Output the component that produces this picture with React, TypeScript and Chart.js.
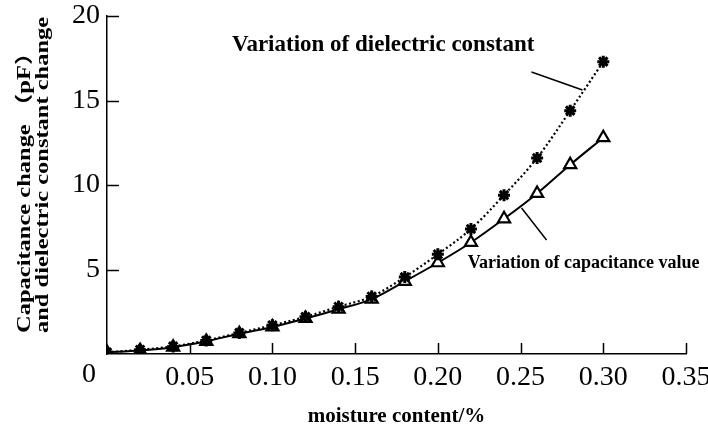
import React, { useEffect, useRef } from "react";
import { Chart, registerables } from "chart.js";

Chart.register(...registerables);

// moisture content (%) values on the x axis
const moisture = [0, 0.02, 0.04, 0.06, 0.08, 0.1, 0.12, 0.14, 0.16, 0.18, 0.2, 0.22, 0.24, 0.26, 0.28, 0.3];
// variation of dielectric constant (stars, dotted)
const dielectric = [0.1, 0.25, 0.45, 0.8, 1.25, 1.7, 2.2, 2.8, 3.4, 4.55, 5.9, 7.4, 9.4, 11.6, 14.4, 17.3];
// variation of capacitance value (triangles, solid)
const capacitance = [0.1, 0.2, 0.4, 0.75, 1.2, 1.6, 2.1, 2.65, 3.25, 4.3, 5.4, 6.6, 8.0, 9.5, 11.2, 12.8];

const xTicks = [0, 0.05, 0.1, 0.15, 0.2, 0.25, 0.3, 0.35];
const yTicks = [0, 5, 10, 15, 20];

const xTitle = "moisture content/%";
const yTitle = ["Capacitance change （pF）", "and dielectric constant change"];
const noteDielectric = "Variation of dielectric constant";
const noteCapacitance = "Variation of capacitance value";

const SERIF = '"Liberation Serif", "Times New Roman", "Noto Sans CJK SC", serif';

const overlay = {
  id: "overlay",
  afterDraw(chart: any) {
    const { ctx, chartArea } = chart;
    const xs = chart.scales.x;
    const ys = chart.scales.y;
    ctx.save();
    ctx.strokeStyle = "#000";
    ctx.lineWidth = 1.5;
    ctx.beginPath();
    xTicks.forEach((v) => {
      if (v === 0) return;
      const px = Math.round(xs.getPixelForValue(v)) + 0.5;
      ctx.moveTo(px, chartArea.bottom);
      ctx.lineTo(px, chartArea.bottom - 11);
    });
    yTicks.forEach((v) => {
      if (v === 0) return;
      const py = Math.round(ys.getPixelForValue(v)) + 0.5;
      ctx.moveTo(chartArea.left, py);
      ctx.lineTo(chartArea.left + 12, py);
    });
    ctx.stroke();

    // origin label
    ctx.fillStyle = "#000";
    ctx.font = `28px ${SERIF}`;
    ctx.textAlign = "center";
    ctx.textBaseline = "top";
    ctx.fillText("0", xs.getPixelForValue(0) - 18, chartArea.bottom + 7);

    // y axis title (two rotated lines, stretched along the text)
    ctx.save();
    ctx.font = `bold 18px ${SERIF}`;
    ctx.textAlign = "left";
    ctx.textBaseline = "middle";
    yTitle.forEach((line, i) => {
      ctx.save();
      ctx.translate(25 + i * 18, 333);
      ctx.rotate(-Math.PI / 2);
      ctx.scale(1.36, 1);
      ctx.fillText(line, 0, 0);
      ctx.restore();
    });
    ctx.restore();

    // annotations
    ctx.textAlign = "left";
    ctx.textBaseline = "middle";
    ctx.font = `bold 23px ${SERIF}`;
    ctx.fillText(noteDielectric, xs.getPixelForValue(0.0755), ys.getPixelForValue(18.28));
    ctx.font = `bold 18px ${SERIF}`;
    ctx.fillText(noteCapacitance, xs.getPixelForValue(0.218), ys.getPixelForValue(5.38));

    ctx.lineWidth = 1.5;
    ctx.beginPath();
    ctx.moveTo(xs.getPixelForValue(0.2566), ys.getPixelForValue(16.69));
    ctx.lineTo(xs.getPixelForValue(0.2874), ys.getPixelForValue(15.62));
    ctx.moveTo(xs.getPixelForValue(0.2506), ys.getPixelForValue(8.64));
    ctx.lineTo(xs.getPixelForValue(0.2657), ys.getPixelForValue(6.75));
    ctx.stroke();
    ctx.restore();
  },
};

export default function App() {
  const ref = useRef<HTMLCanvasElement>(null);

  useEffect(() => {
    document.body.style.margin = "0";
    const canvas = ref.current;
    if (!canvas) return;
    const chart = new Chart(canvas, {
      type: "line",
      data: {
        datasets: [
          {
            label: noteDielectric,
            data: moisture.map((m, i) => ({ x: m, y: dielectric[i] })),
            borderColor: "#000",
            backgroundColor: "#000",
            borderWidth: 2.2,
            borderDash: [2, 2.5],
            pointStyle: "star",
            pointRadius: 6,
            pointBorderWidth: 3,
            pointBorderColor: "#000",
            pointBackgroundColor: "#000",
            cubicInterpolationMode: "monotone",
            fill: false,
          },
          {
            label: noteCapacitance,
            data: moisture.map((m, i) => ({ x: m, y: capacitance[i] })),
            borderColor: "#000",
            backgroundColor: "#fff",
            borderWidth: 2,
            pointStyle: "triangle",
            pointRadius: 7,
            pointBorderWidth: 2.2,
            pointBorderColor: "#000",
            pointBackgroundColor: "#fff",
            cubicInterpolationMode: "monotone",
            fill: false,
          },
        ],
      },
      options: {
        animation: false,
        responsive: false,
        devicePixelRatio: 1,
        layout: { padding: { left: 0, right: 22, top: 16, bottom: 0 } },
        plugins: {
          legend: { display: false },
          tooltip: { enabled: false },
        },
        scales: {
          x: {
            type: "linear",
            min: 0,
            max: 0.35,
            afterBuildTicks: (s: any) => {
              s.ticks = xTicks.map((v) => ({ value: v }));
            },
            afterFit: (s: any) => {
              s.height = 76;
              s.paddingLeft = 0;
              s.paddingRight = 0;
            },
            grid: { display: false, drawTicks: false },
            border: { display: true, color: "#000", width: 1.5 },
            ticks: {
              color: "#000",
              padding: 7,
              maxRotation: 0,
              autoSkip: false,
              font: { family: SERIF, size: 28 },
              callback: (v: any) => (Number(v) === 0 ? "" : Number(v).toFixed(2)),
            },
            title: {
              display: true,
              text: xTitle,
              color: "#000",
              font: { family: SERIF, size: 21, weight: "bold", lineHeight: 1.2 },
              padding: { top: 0, bottom: 1 },
            },
          },
          y: {
            type: "linear",
            min: 0,
            max: 20,
            afterBuildTicks: (s: any) => {
              s.ticks = yTicks.map((v) => ({ value: v }));
            },
            afterFit: (s: any) => {
              s.width = 107;
              s.paddingTop = 0;
              s.paddingBottom = 0;
            },
            grid: { display: false, drawTicks: false },
            border: { display: true, color: "#000", width: 1.5 },
            ticks: {
              color: "#000",
              padding: 7,
              font: { family: SERIF, size: 28 },
              callback: (v: any) => (Number(v) === 0 ? "" : String(v)),
            },
            title: { display: false },
          },
        },
      },
      plugins: [overlay],
    } as any);
    return () => chart.destroy();
  }, []);

  return (
    <div style={{ width: 708, height: 430, background: "#fff" }}>
      <canvas ref={ref} width={708} height={430} style={{ display: "block" }} />
    </div>
  );
}
